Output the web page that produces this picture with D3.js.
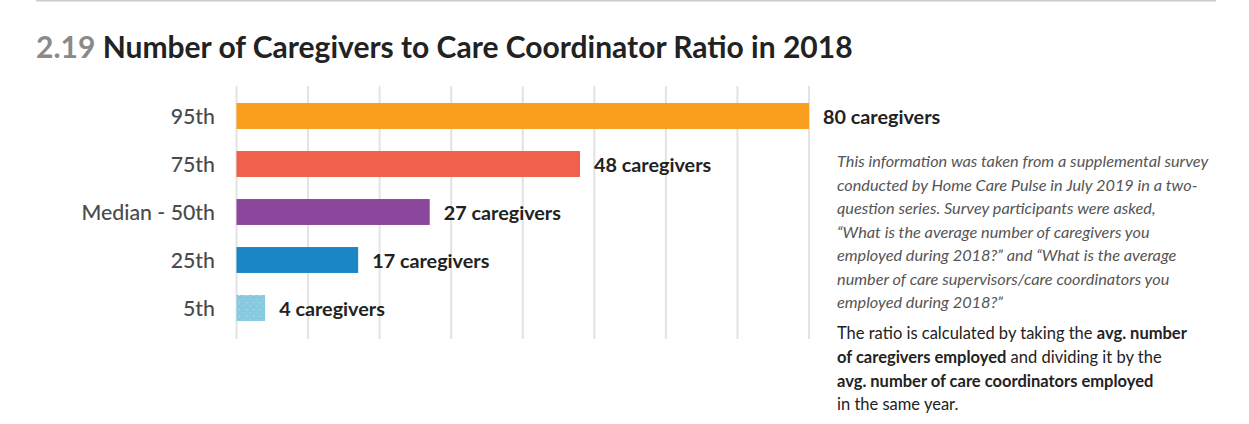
<!DOCTYPE html>
<html><head><meta charset="utf-8">
<script src="https://cdn.jsdelivr.net/npm/d3@7/dist/d3.min.js"></script>
<style>
html,body{margin:0;padding:0;background:#fff;}
svg{display:block;font-family:Lato,"Open Sans",sans-serif;}
</style></head>
<body>
<svg id="chart" width="1249" height="424"></svg>
<script>
const categories = ["95th","75th","Median - 50th","25th","5th"];
const values = [80,48,27,17,4];
const valueLabels = ["80 caregivers","48 caregivers","27 caregivers","17 caregivers","4 caregivers"];
const colors = ["#F99F1D","#F0604A","#8A479B","#1A87C4","#87C9E0"];
const tickValues = [0,10,20,30,40,50,60,70,80];
const titleNum = "2.19";
const titleText = "Number of Caregivers to Care Coordinator Ratio in 2018";
const note1 = ["This information was taken from a supplemental survey",
 "conducted by Home Care Pulse in July 2019 in a two-",
 "question series. Survey participants were asked,",
 "\u201CWhat is the average number of caregivers you",
 "employed during 2018?\u201D and \u201CWhat is the average",
 "number of care supervisors/care coordinators you",
 "employed during 2018?\u201D"];
const note2 = [
 [["The ratio is calculated by taking the ",false],["avg. number",true]],
 [["of caregivers employed",true],[" and dividing it by the",false]],
 [["avg. number of care coordinators employed",true]],
 [["in the same year.",false]]
];

const svg = d3.select("#chart");
svg.append("line").attr("x1",36).attr("x2",1216).attr("y1",0.5).attr("y2",0.5)
  .attr("stroke","#cccccc").attr("stroke-width",2);

const t = svg.append("text").attr("x",36).attr("y",58).attr("font-size",30).attr("font-weight",700);
t.append("tspan").attr("fill","#8a8a8a").text(titleNum+" ");
t.append("tspan").attr("fill","#222").text(titleText);

const x = d3.scaleLinear().domain([0,80]).range([236.5,809]);
const y = d3.scaleBand().domain(categories).range([92,332]).paddingInner(0.46).paddingOuter(0.23);

const defs = svg.append("defs");
const pat = defs.append("pattern").attr("id","dots").attr("patternUnits","userSpaceOnUse")
  .attr("width",7).attr("height",7);
pat.append("rect").attr("width",7).attr("height",7).attr("fill",colors[4]);
pat.append("circle").attr("cx",1.5).attr("cy",1.5).attr("r",0.5).attr("fill","#e3f3f9");
pat.append("circle").attr("cx",5).attr("cy",5).attr("r",0.45).attr("fill","#d3ecf5");

svg.append("g").selectAll("line").data(tickValues).join("line")
  .attr("x1",d=>x(d)).attr("x2",d=>x(d)).attr("y1",86).attr("y2",339)
  .attr("stroke","#e3e3e3").attr("stroke-width",2);

svg.append("g").selectAll("rect").data(categories).join("rect")
  .attr("x",x(0)).attr("y",d=>y(d)).attr("height",y.bandwidth())
  .attr("width",(d,i)=>x(values[i])-x(0))
  .attr("fill",(d,i)=>i===4?"url(#dots)":colors[i]);

svg.append("g").selectAll("text").data(categories).join("text")
  .attr("x",215).attr("y",d=>y(d)+y.bandwidth()/2+1).attr("dy","0.35em")
  .attr("text-anchor","end").attr("font-size",21.3).attr("font-weight",500)
  .attr("fill","#4a4a4a").text(d=>d);

svg.append("g").selectAll("text").data(categories).join("text")
  .attr("x",(d,i)=>x(values[i])+14).attr("y",d=>y(d)+y.bandwidth()/2+1.5).attr("dy","0.35em")
  .attr("font-size",19.8).attr("font-weight",700).attr("fill","#222").text((d,i)=>valueLabels[i]);

const n1 = svg.append("g");
note1.forEach((s,i)=>{
  n1.append("text").attr("x",837).attr("y",167+i*23.5).attr("font-size",16.3)
   .attr("font-style","italic").attr("fill","#555").text(s);
});
const n2 = svg.append("g");
note2.forEach((parts,i)=>{
  const tx = n2.append("text").attr("x",837).attr("y",339+i*23.8).attr("font-size",16.5).attr("fill","#222");
  parts.forEach(p=>tx.append("tspan").attr("font-weight",p[1]?700:400).text(p[0]));
});
</script>
</body></html>
